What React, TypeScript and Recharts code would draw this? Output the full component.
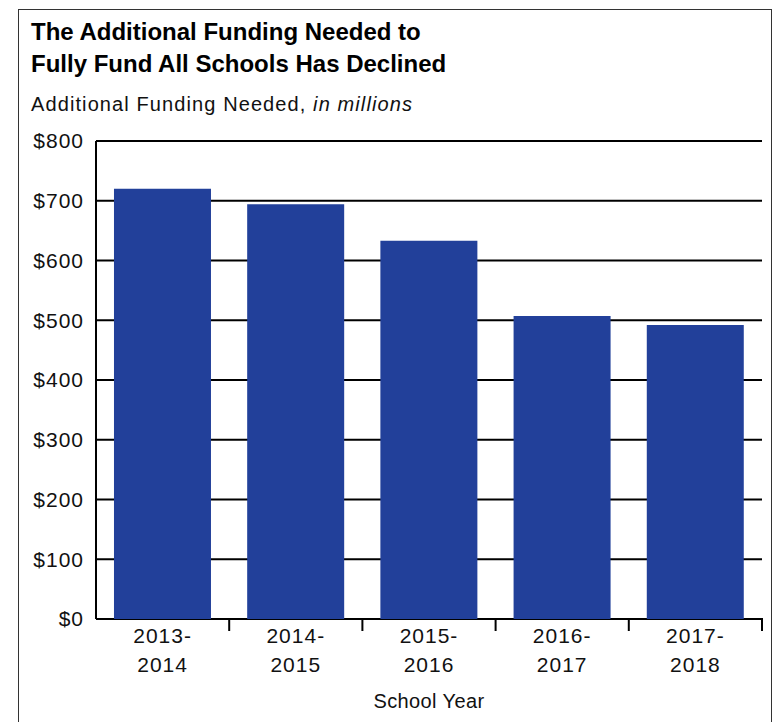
import { BarChart, Bar, XAxis, YAxis, CartesianGrid } from 'recharts'

const schoolYears = ['2013-2014', '2014-2015', '2015-2016', '2016-2017', '2017-2018']
const fundingNeeded = [720, 694, 633, 507, 492]
const yTicks = [0, 100, 200, 300, 400, 500, 600, 700, 800]

const data = schoolYears.map((year, i) => ({ year, value: fundingNeeded[i] }))

const FONT = '"Liberation Sans", Arial, sans-serif'
const PLOT_LEFT = 96
const PLOT_RIGHT = 762
const HALF_BAND = (PLOT_RIGHT - PLOT_LEFT) / schoolYears.length / 2

function YearTick({ x, y, payload }: { x: number; y: number; payload: { value: string } }) {
  const [start, end] = String(payload.value).split('-')
  return (
    <g>
      <line x1={x + HALF_BAND} x2={x + HALF_BAND} y1={y - 1} y2={y + 12} stroke="#000" strokeWidth={2} />
      <text x={x} y={y + 24} textAnchor="middle" fontFamily={FONT} fontSize={21} letterSpacing={1} fill="#111">
        {start}-
      </text>
      <text x={x} y={y + 53} textAnchor="middle" fontFamily={FONT} fontSize={21} letterSpacing={1} fill="#111">
        {end}
      </text>
    </g>
  )
}

export default function App() {
  return (
    <div style={{ position: 'absolute', left: 0, top: 0, width: 782, height: 722, background: '#fff', overflow: 'hidden', fontFamily: FONT }}>
      {/* frame */}
      <div style={{ position: 'absolute', left: 18, top: 9, width: 754, height: 760, border: '1.5px solid #333', boxSizing: 'border-box' }} />

      <div style={{ position: 'absolute', left: 31, top: 16, fontSize: 24, fontWeight: 700, lineHeight: '32px', color: '#000' }}>
        The Additional Funding Needed to
        <br />
        Fully Fund All Schools Has Declined
      </div>
      <div style={{ position: 'absolute', left: 31, top: 92, fontSize: 20, lineHeight: '24px', letterSpacing: 1.1, color: '#111' }}>
        Additional Funding Needed, <i>in millions</i>
      </div>

      <div style={{ position: 'absolute', left: 0, top: 0 }}>
        <BarChart width={782} height={722} data={data} barCategoryGap="13.5%" margin={{ top: 141, right: 782 - PLOT_RIGHT, bottom: 43, left: 0 }}>
          <CartesianGrid vertical={false} stroke="#000" strokeWidth={2} />
          <XAxis
            dataKey="year"
            height={60}
            axisLine={false}
            tickLine={false}
            tickSize={0}
            tickMargin={0}
            interval={0}
            tick={(props: any) => <YearTick {...props} />}
          />
          <YAxis
            width={PLOT_LEFT}
            domain={[0, 800]}
            ticks={yTicks}
            interval={0}
            tickSize={0}
            tickMargin={12}
            tickLine={false}
            axisLine={{ stroke: '#000', strokeWidth: 2 }}
            tickFormatter={(v: number) => `$${v}`}
            tick={{ fontSize: 21, fill: '#111', fontFamily: FONT, letterSpacing: 1 }}
          />
          <Bar dataKey="value" fill="#22409a" isAnimationActive={false} />
        </BarChart>
      </div>

      <div style={{ position: 'absolute', left: PLOT_LEFT, width: PLOT_RIGHT - PLOT_LEFT, top: 689, fontSize: 20, lineHeight: '24px', letterSpacing: 0.4, textAlign: 'center', color: '#111' }}>
        School Year
      </div>
    </div>
  )
}
